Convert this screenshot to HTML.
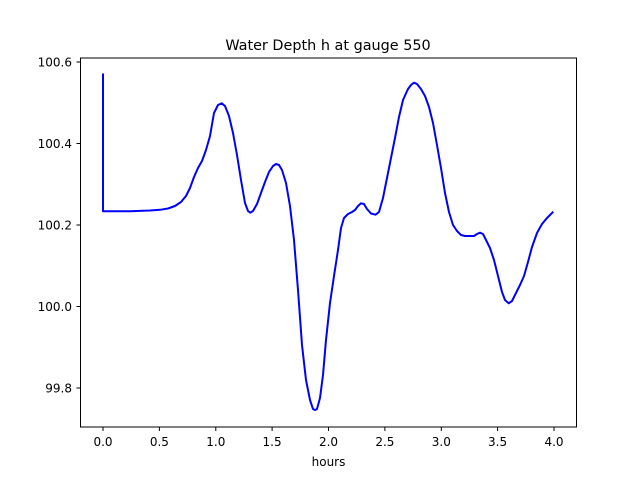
<!DOCTYPE html>
<html><head><style>
body{margin:0;background:#fff;}
svg text{font-family:"DejaVu Sans","Liberation Sans",sans-serif;fill:#000;}
</style></head><body>
<svg width="640" height="480" viewBox="0 0 640 480" xmlns="http://www.w3.org/2000/svg">
<rect width="640" height="480" fill="#fff"/>
<text x="328" y="50" font-size="14.4" text-anchor="middle">Water Depth h at gauge 550</text>
<polyline fill="none" stroke="#0000ff" stroke-width="2" stroke-linejoin="round" points="
103,73.5 103,211.3 130,211.2 150,210.5 160,209.8 168,208.5 175,206 181,202 186,196 190,188 194,177 198,168 202,161 206,150 210,136 214,113 218,105 221.7,103.3 225,106 229,116 233,133 237,155 241,180 245,203 248,211 250.3,212.7 253,211 257,204 261,193 265,182 269,172 273,166 276,164 279,165 282,170 286,183 290,206 294,240 298,290 302,345 306,380 310,400 313,409 315,410 317,409 320,398 323,375 326,340 330,303 334,276 338,250 341,228 344,218 348,214 352,212 355,210 358,206 361,203.3 364,204 367,209 371,213.5 375.5,214.7 379,212 383,198 387,178 391,158 395,138 399,117 403,100 408,89 411,85 414,82.7 417,84 421,89 425,96 429,107 433,123 437,145 441,168 445,193 449,212 453,225 457,231 461,235 465,236 470,236 474,236 477,234 480,232.7 483,234 486,240 490,248 494,260 498,276 502,292 505,300 508.7,303.3 512,301 516,293 520,285 524,276 528,262 532,247 537,233 542,224 547,218 553.3,211.7"/>
<rect x="80.5" y="58" width="496" height="369" fill="none" stroke="#000" stroke-width="1"/>
<g stroke="#000" stroke-width="1">
<line x1="103" y1="427" x2="103" y2="431"/><line x1="159.4" y1="427" x2="159.4" y2="431"/><line x1="215.8" y1="427" x2="215.8" y2="431"/><line x1="272.1" y1="427" x2="272.1" y2="431"/><line x1="328.5" y1="427" x2="328.5" y2="431"/><line x1="384.9" y1="427" x2="384.9" y2="431"/><line x1="441.3" y1="427" x2="441.3" y2="431"/><line x1="497.6" y1="427" x2="497.6" y2="431"/><line x1="554" y1="427" x2="554" y2="431"/>
<line x1="76.5" y1="62" x2="80.5" y2="62"/><line x1="76.5" y1="143.5" x2="80.5" y2="143.5"/><line x1="76.5" y1="225" x2="80.5" y2="225"/><line x1="76.5" y1="306.5" x2="80.5" y2="306.5"/><line x1="76.5" y1="388" x2="80.5" y2="388"/>
</g>
<g font-size="12" text-anchor="middle">
<text x="103" y="446">0.0</text><text x="159.4" y="446">0.5</text><text x="215.8" y="446">1.0</text><text x="272.1" y="446">1.5</text><text x="328.5" y="446">2.0</text><text x="384.9" y="446">2.5</text><text x="441.3" y="446">3.0</text><text x="497.6" y="446">3.5</text><text x="554" y="446">4.0</text>
<text x="328.5" y="466">hours</text>
</g>
<g font-size="12" text-anchor="end">
<text x="72" y="66.5">100.6</text><text x="72" y="148">100.4</text><text x="72" y="229.5">100.2</text><text x="72" y="311">100.0</text><text x="72" y="392.5">99.8</text>
</g>
</svg>
</body></html>
